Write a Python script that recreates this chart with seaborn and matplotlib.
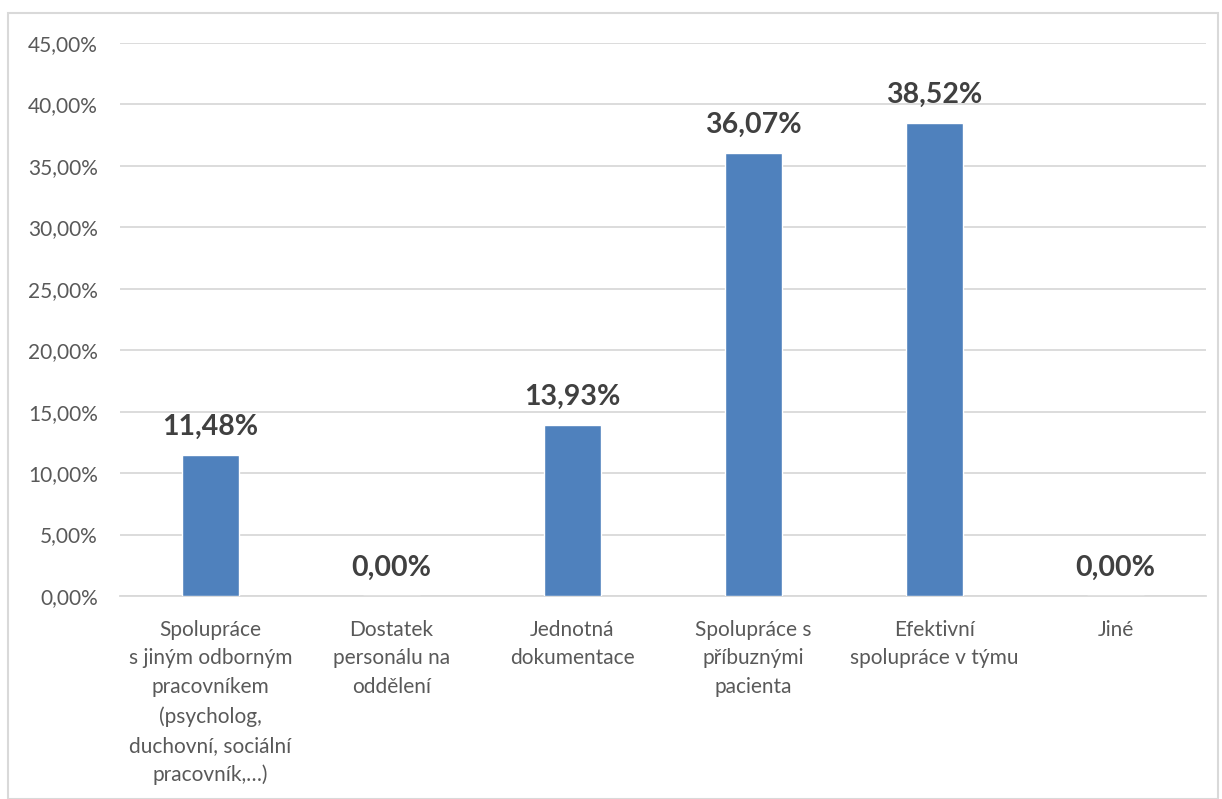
import matplotlib
matplotlib.use("Agg")
import matplotlib.pyplot as plt
import seaborn as sns
import pandas as pd
from matplotlib.patches import Rectangle
from matplotlib.ticker import FuncFormatter

categories = [
    "Spolupráce\ns jiným odborným\npracovníkem\n(psycholog,\nduchovní, sociální\npracovník,…)",
    "Dostatek\npersonálu na\noddělení",
    "Jednotná\ndokumentace",
    "Spolupráce s\npříbuznými\npacienta",
    "Efektivní\nspolupráce v týmu",
    "Jiné",
]
values = [11.48, 0.00, 13.93, 36.07, 38.52, 0.00]
yticks = [0, 5, 10, 15, 20, 25, 30, 35, 40, 45]

sns.set_theme(style="white")
plt.rcParams['font.family'] = ['Lato', 'DejaVu Sans']

df = pd.DataFrame({"cat": categories, "val": values})

fig = plt.figure(figsize=(12.22, 7.99), dpi=100)
ax = fig.add_axes([120/1222, 1-596/799, (1206-120)/1222, (596-43)/799])

sns.barplot(data=df, x="cat", y="val", color="#4F81BD", saturation=1, width=0.31, ax=ax, zorder=3)

ax.set_ylim(0, 45)
ax.set_yticks(yticks)
ax.yaxis.set_major_formatter(FuncFormatter(lambda v, p: f"{v:.2f}%".replace(".", ",")))
ax.grid(axis="y", color="#D9D9D9", linewidth=1.3, zorder=0)
ax.set_axisbelow(True)
for s in ["top", "right", "left"]:
    ax.spines[s].set_visible(False)
ax.spines["bottom"].set_color("#D9D9D9")
ax.spines["bottom"].set_linewidth(1.3)
ax.set_xlabel("")
ax.set_ylabel("")
ax.tick_params(axis="y", labelsize=15, colors="#595959", length=0, pad=16)
ax.tick_params(axis="x", labelsize=15, colors="#595959", length=0, pad=17)
for lbl in ax.get_xticklabels():
    lbl.set_linespacing(1.55)

for i, v in enumerate(values):
    ax.text(i, v + 1.2, f"{v:.2f}%".replace(".", ","), ha="center", va="bottom",
            fontsize=20.5, fontweight="bold", color="#404040")

fig.patches.append(Rectangle((8/1222, 0), (1218-8)/1222, 1-13/799, transform=fig.transFigure,
                             fill=False, edgecolor="#D9D9D9", linewidth=1.5))

fig.savefig("out.png", dpi=100)
